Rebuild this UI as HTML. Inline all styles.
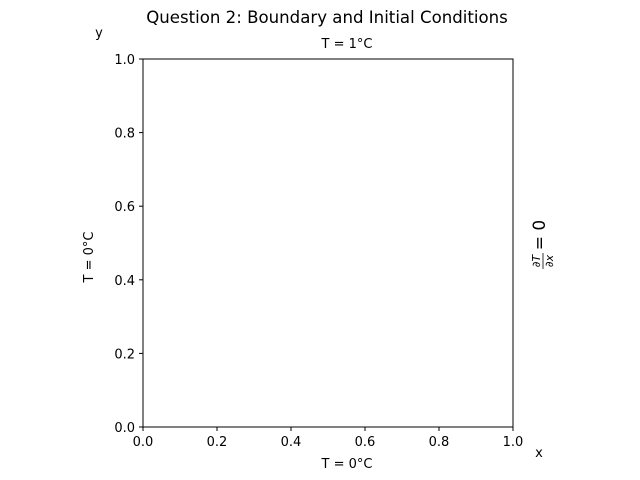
<!DOCTYPE html>
<html><head><meta charset="utf-8"><style>body{margin:0;background:#fff}svg{display:block;font-family:"DejaVu Sans","Liberation Sans",sans-serif}</style></head>
<body>
<svg id="c" width="640" height="480">
<text x="327" y="23" font-size="16.6" text-anchor="middle">Question 2: Boundary and Initial Conditions</text>
<text x="99" y="37" font-size="13" text-anchor="middle">y</text>
<text x="539" y="457" font-size="13" text-anchor="middle">x</text>
<text x="347" y="48" font-size="13" text-anchor="middle">T = 1°C</text>
<text x="347" y="468" font-size="13" text-anchor="middle">T = 0°C</text>
<text transform="translate(93,257) rotate(-90)" font-size="13" text-anchor="middle">T = 0°C</text>
<g transform="translate(545,245) rotate(-90)">
<text x="-16" y="-5" font-size="11" font-style="italic" text-anchor="middle">∂T</text>
<line x1="-24" x2="-8" y1="-2" y2="-2" stroke="#000" stroke-width="0.8"/>
<text x="-16" y="8" font-size="11" font-style="italic" text-anchor="middle">∂x</text>
<text x="10" y="0" font-size="17" text-anchor="middle">= 0</text>
</g>
<rect x="143" y="59" width="370" height="368" fill="none" stroke="#000" stroke-width="1"/>
<g id="ticks"></g>
</svg>
<script>
const xTicks=[0,0.2,0.4,0.6,0.8,1.0];
const yTicks=[0,0.2,0.4,0.6,0.8,1.0];
const sx=v=>143+v*370, sy=v=>427-v*368;
const g=document.getElementById('ticks');const NS='http://www.w3.org/2000/svg';
xTicks.forEach(v=>{const l=document.createElementNS(NS,'line');l.setAttribute('x1',sx(v));l.setAttribute('x2',sx(v));l.setAttribute('y1',427);l.setAttribute('y2',431);l.setAttribute('stroke','#000');

g.appendChild(l);
const t=document.createElementNS(NS,'text');t.setAttribute('x',sx(v));t.setAttribute('y',446);t.setAttribute('font-size','13');t.setAttribute('text-anchor','middle');t.textContent=v.toFixed(1);

g.appendChild(t);});
yTicks.forEach(v=>{const l=document.createElementNS(NS,'line');l.setAttribute('x1',139);l.setAttribute('x2',143);l.setAttribute('y1',sy(v));l.setAttribute('y2',sy(v));l.setAttribute('stroke','#000');

g.appendChild(l);
const t=document.createElementNS(NS,'text');t.setAttribute('x',135);t.setAttribute('y',sy(v)+5);t.setAttribute('font-size','13');t.setAttribute('text-anchor','end');t.textContent=v.toFixed(1);

g.appendChild(t);});
</script>
</body></html>
